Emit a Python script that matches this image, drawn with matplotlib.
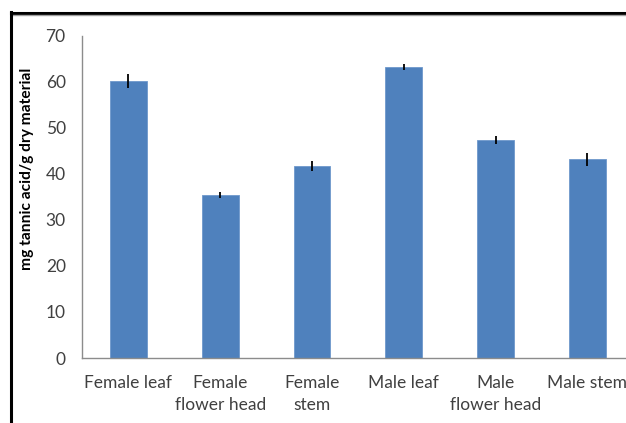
import matplotlib
matplotlib.use("Agg")
import matplotlib.pyplot as plt
from matplotlib.lines import Line2D

categories = ["Female leaf", "Female\nflower head", "Female\nstem", "Male leaf", "Male\nflower head", "Male stem"]
values = [60.2, 35.4, 41.7, 63.3, 47.4, 43.2]
errors = [1.5, 0.7, 1.1, 0.7, 0.9, 1.4]
yticks = [0, 10, 20, 30, 40, 50, 60, 70]
ylabel = "mg tannic acid/g dry material"

W, H = 626, 423
fig = plt.figure(figsize=(W / 100, H / 100), dpi=100)
left_px, right_px = 82.4, 633.4
top_px, bottom_px = 36, 358
ax = fig.add_axes([left_px / W, 1 - bottom_px / H, (right_px - left_px) / W, (bottom_px - top_px) / H])

x = list(range(len(categories)))
ax.bar(x, values, width=0.4, color="#4F81BD", edgecolor="#6E98CC", linewidth=0.6, zorder=2)
ax.errorbar(x, values, yerr=errors, fmt="none", ecolor="black", elinewidth=1.3, capsize=0, zorder=3)

ax.set_xlim(-0.5, len(categories) - 0.5)
ax.set_ylim(0, 70)
ax.set_yticks(yticks)
ax.set_yticklabels([str(t) for t in yticks])
ax.set_xticks(x)
ax.set_xticklabels(categories)

tick_color = "#404040"
for lab in ax.get_yticklabels():
    lab.set_fontfamily("Lato")
    lab.set_fontsize(12.5)
    lab.set_color(tick_color)
for lab in ax.get_xticklabels():
    lab.set_fontfamily("Lato")
    lab.set_fontsize(12.5)
    lab.set_color(tick_color)
    lab.set_linespacing(1.5)

ax.tick_params(axis="y", length=0, pad=12)
ax.tick_params(axis="x", length=0, pad=12)

for s in ["top", "right"]:
    ax.spines[s].set_visible(False)
ax.spines["left"].set_color("#8C8C8C")
ax.spines["bottom"].set_color("#8C8C8C")
ax.spines["left"].set_linewidth(1.0)
ax.spines["bottom"].set_linewidth(1.0)

fig.text(27 / W, 1 - 169 / H, ylabel, rotation=90, ha="center", va="center",
         fontsize=11.2, fontweight="bold", family="Lato", color="black")

# outer frame (top and left)
fig.add_artist(Line2D([11 / W, 1], [1 - 13.5 / H, 1 - 13.5 / H], color="black", lw=2.2, transform=fig.transFigure))
fig.add_artist(Line2D([12 / W, 1], [1 - 15.5 / H, 1 - 15.5 / H], color="#A0A0A0", lw=1.0, transform=fig.transFigure))
fig.add_artist(Line2D([11 / W, 11 / W], [0, 1 - 12.5 / H], color="black", lw=2.2, transform=fig.transFigure))

fig.savefig("out.png", dpi=100)
